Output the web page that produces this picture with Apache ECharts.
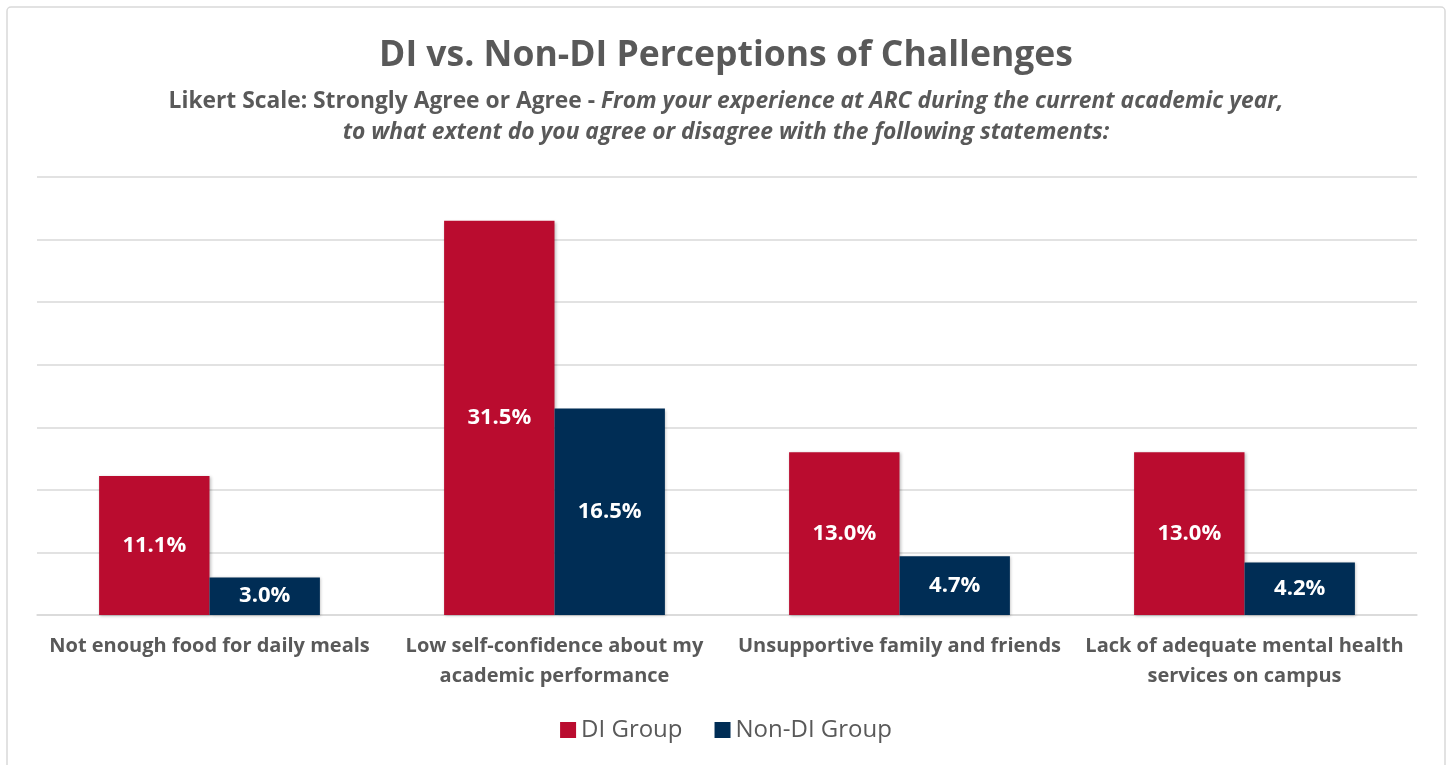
<!DOCTYPE html>
<html><head><meta charset="utf-8">
<script src="https://cdn.jsdelivr.net/npm/echarts@6/dist/echarts.min.js"></script>
<style>html,body{margin:0;padding:0;background:#fff}#c{width:1452px;height:765px}</style>
</head><body><div id="c"></div>
<script>
const categories = ['Not enough food for daily meals', 'Low self-confidence about my\nacademic performance', 'Unsupportive family and friends', 'Lack of adequate mental health\nservices on campus'];
const diGroup = [11.1, 31.5, 13.0, 13.0];
const nonDiGroup = [3.0, 16.5, 4.7, 4.2];
const seriesNames = ['DI Group', 'Non-DI Group'];

const chart = echarts.init(document.getElementById('c'));
const F = 'Open Sans';
const lbl = {show:true, position:'inside', color:'#fff', fontFamily:F, fontWeight:'bold', fontSize:22, formatter: p => p.value.toFixed(1) + '%'};
chart.setOption({
  animation:false,
  graphic:[{type:'rect', shape:{x:7,y:7,width:1438,height:790,r:4}, style:{fill:'none', stroke:'#d9d9d9', lineWidth:1.5}, silent:true}],
  title:{
    text:'DI vs. Non-DI Perceptions of Challenges',
    left:'center', top:33,
    textStyle:{fontFamily:F, fontWeight:'bold', fontSize:35.5, color:'#595959'},
    subtext:'{b|Likert Scale: Strongly Agree or Agree - }{i|From your experience at ARC during the current academic year,}\n{i|to what extent do you agree or disagree with the following statements:}',
    itemGap:12,
    subtextStyle:{align:'center', lineHeight:31, rich:{
      b:{fontFamily:F, fontWeight:'bold', fontSize:22.8, color:'#595959', lineHeight:31},
      i:{fontFamily:F, fontWeight:'bold', fontStyle:'italic', fontSize:22.8, color:'#595959', lineHeight:31}
    }}
  },
  legend:{bottom:18, left:'center', itemWidth:16, itemHeight:16, itemGap:32, icon:'rect',
    textStyle:{fontFamily:F, fontSize:24, color:'#595959'}, data:seriesNames},
  grid:{left:37, right:35, top:177, bottom:150, containLabel:false},
  xAxis:{type:'category', data:categories,
    axisLine:{lineStyle:{color:'#d9d9d9', width:1.5}}, axisTick:{show:false},
    axisLabel:{fontFamily:F, fontWeight:'bold', fontSize:20, color:'#595959', lineHeight:30, margin:16, interval:0}},
  yAxis:{type:'value', min:0, max:35, interval:5, axisLabel:{show:false}, axisLine:{show:false}, axisTick:{show:false},
    splitLine:{lineStyle:{color:'#d9d9d9', width:1.5}}},
  series:[
    {name:seriesNames[0], type:'bar', data:diGroup, barGap:'0%', barCategoryGap:'36%', itemStyle:{color:'#BA0C2F', shadowColor:'rgba(0,0,0,0.25)', shadowBlur:3, shadowOffsetX:1, shadowOffsetY:1}, label:lbl},
    {name:seriesNames[1], type:'bar', data:nonDiGroup, itemStyle:{color:'#002D55', shadowColor:'rgba(0,0,0,0.25)', shadowBlur:3, shadowOffsetX:1, shadowOffsetY:1}, label:lbl}
  ]
});
</script></body></html>
